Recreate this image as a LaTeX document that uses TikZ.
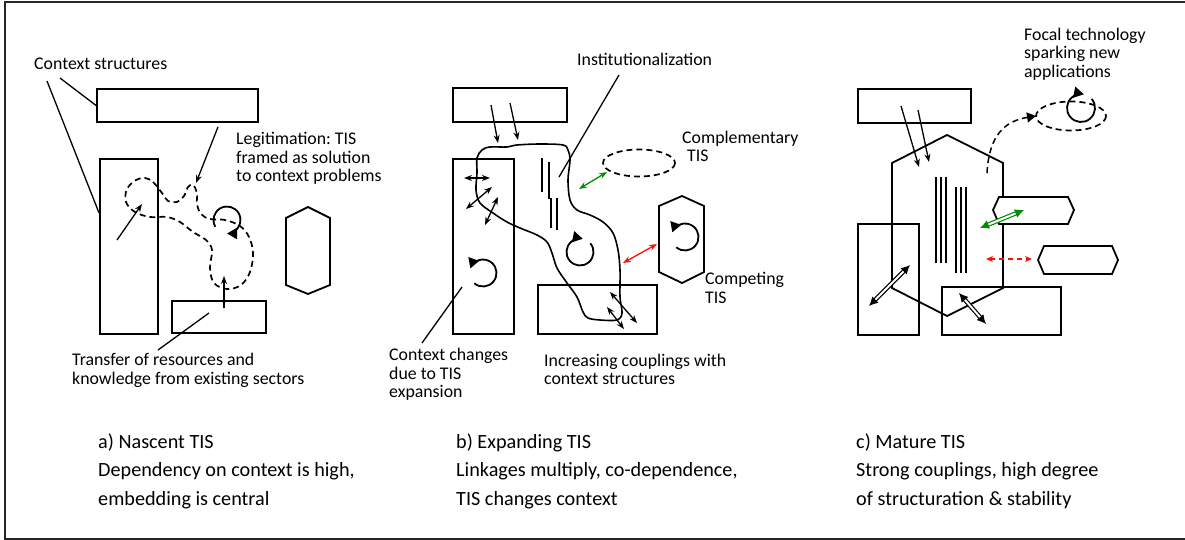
\documentclass[tikz,border=0pt]{standalone}
\usepackage{fontspec}
\setmainfont{Carlito}
\usepackage{tikz}
\usetikzlibrary{arrows.meta}

\begin{document}
\frenchspacing
\begin{tikzpicture}[x=1pt, y=-1pt,
	box/.style={draw, line width=1.8pt, rectangle, inner sep=0pt},
	outline/.style={line width=1.8pt, line join=miter},
	lbl/.style={font=\fontsize{17.8}{18.5}\selectfont, align=left, inner sep=0pt, anchor=base west},
	capt/.style={font=\fontsize{20.2}{28.5}\selectfont, align=left, inner sep=0pt, anchor=base west},
	lead/.style={line width=1.3pt},
	tip/.style={line width=1.3pt, -{Stealth[length=8pt, width=6pt]}},
	twotip/.style={line width=1.3pt, {Stealth[length=8pt, width=6pt]}-{Stealth[length=8pt, width=6pt]}},
	turn/.style={line width=1.8pt, -{Triangle[length=10pt, width=11pt]}},
	dashline/.style={line width=1.7pt, dash pattern=on 6pt off 4pt},
	twoline/.style={line width=1.2pt, double, double distance=2pt, {Latex[length=9pt, width=9pt]}-{Latex[length=9pt, width=9pt]}}]
	\useasboundingbox (0,0) rectangle (1185,540);
	\draw [line width=1.8pt, black!85] (1185,2) -- (5,2) -- (5,539) -- (1185,539);

	% a) nascent
	\node [box, minimum width=161pt, minimum height=33pt] (aTop) at (177.5,105.5) {};
	\node [box, minimum width=58pt, minimum height=175pt] (aLeft) at (129,246.5) {};
	\node [box, minimum width=94pt, minimum height=32pt] (aBot) at (219,317) {};
	\draw [outline] (308,207) -- (330,218) -- (330,285) -- (308,294) -- (286,285) -- (286,218) -- cycle;
	\draw [dashline] plot [smooth cycle, tension=0.6] coordinates {(145,178) (153,182) (162,193) (168,201) (177,202) (184,196) (188,187) (193,185) (197,193) (197,204) (201,214) (210,219) (225,220) (240,226) (249,237) (253,253) (250,272) (241,285) (227,289) (214,283) (210,268) (212,250) (206,240) (193,232) (180,222) (167,217) (150,217) (135,212) (126,202) (127,189) (136,180)};
	\draw [turn] (227,220) ++(150:13.5) arc [start angle=150, end angle=450, radius=13.5];
	\draw [tip] ([xshift=40.5pt, yshift=-4pt]aTop.south) -- (196,183);
	\draw [tip] (117,240) -- (142,204);
	\draw [tip] ([xshift=5pt, yshift=9pt]aBot.center) -- (224,276);

	\node [lbl] (aCtx) at (34,70) {Context structures};
	\node [lbl] (aLeg) at (236,182) {Legitimation: TIS\\framed as solution\\to context problems};
	\node [lbl] (aTra) at (72,384) {Transfer of resources and\\knowledge from existing sectors};
	\draw [lead] ([xshift=26pt, yshift=-8pt]aCtx.base west) -- (aTop.west);
	\draw [lead] ([xshift=13pt, yshift=-11pt]aCtx.base west) -- ([yshift=-55pt]aLeft.north west);
	\draw [lead] ([xshift=86pt, yshift=34pt]aTra.base west) -- ([xshift=-10pt, yshift=4pt]aBot.center);

	% b) expanding
	\node [box, minimum width=114pt, minimum height=34pt] (bTop) at (510,105) {};
	\node [box, minimum width=61pt, minimum height=175pt] (bLeft) at (483.5,246.5) {};
	\node [box, minimum width=119pt, minimum height=49pt] (bBot) at (597.5,309.5) {};
	\draw [dashline] (639,163) ellipse [x radius=36, y radius=13.5];
	\draw [outline] (682,196) -- (704,206) -- (704,272) -- (682,283) -- (659,272) -- (659,206) -- cycle;
	\draw [line width=1.6pt] plot [smooth cycle, tension=0.55] coordinates {(482,150) (490,147) (507,147) (517,145) (540,144) (563,145) (568,150) (570,160) (568,180) (570,200) (577,210) (590,215) (603,222) (613,233) (618,250) (620,270) (620,297) (622,313) (617,320) (600,320) (588,318) (583,312) (577,297) (567,283) (557,268) (552,253) (547,242) (537,235) (520,228) (507,222) (493,213) (480,203) (476,190) (477,173) (477,158)};
	\draw [line width=1.5pt] (542,158) -- (542,192);
	\draw [line width=1.5pt] (549,162) -- (549,199);
	\draw [line width=1.5pt] (551,198) -- (551,228);
	\draw [line width=1.5pt] (557,198) -- (557,230);
	\draw [turn] (483,273) ++(130:13.5) arc [start angle=130, end angle=-160, radius=13.5];
	\draw [turn] (580,252) ++(-40:13.5) arc [start angle=-40, end angle=282, radius=13.5];
	\draw [turn] (685,237) ++(130:13.5) arc [start angle=130, end angle=-160, radius=13.5];
	\draw [tip] ([xshift=-19pt]bTop.center) -- (498,143);
	\draw [tip] ([xshift=0pt, yshift=2pt]bTop.center) -- (518,140);
	\draw [twotip] (464,178) -- (490,178);
	\draw [twotip] (466,209) -- (492,187);
	\draw [twotip] (485,225) -- (498,197);
	\draw [twotip, green!55!black] (579,189) -- (607,172);
	\draw [twotip, red!90!orange] (623,263) -- (657,244);
	\draw [twotip] (610,292) -- (637,323);
	\draw [twotip] (607,307) -- (624,329);

	\node [lbl] (bIns) at (577,66) {Institutionalization};
	\node [lbl] (bCom) at (682,162) {Complementary\\\hspace*{5pt}TIS};
	\node [lbl] (bCmp) at (705,303) {Competing\\TIS};
	\node [lbl] (bChg) at (389,397.5) {Context changes\\due to TIS\\expansion};
	\node [lbl] (bInc) at (544,384.5) {Increasing couplings with\\context structures};
	\draw [lead] ([xshift=42pt, yshift=-9pt]bIns.base west) -- (559,177);
	\draw [lead] ([xshift=33pt, yshift=54.5pt]bChg.base west) -- ([xshift=-21.5pt, yshift=-40.5pt]bLeft.center);

	% c) mature
	\node [box, minimum width=113pt, minimum height=34pt] (cTop) at (914.5,106) {};
	\node [box, minimum width=61pt, minimum height=111pt] (cLeft) at (888.5,279.5) {};
	\node [box, minimum width=119pt, minimum height=48pt] (cBot) at (1001.5,311) {};
	\draw [outline] (947,135) -- (1003,163) -- (1003,288) -- (947,316) -- (892,288) -- (892,163) -- cycle;
	\draw [outline, fill=white] (993,210) -- (999,197) -- (1068,197) -- (1074,210) -- (1068,224) -- (999,224) -- cycle;
	\draw [outline, fill=white] (1038,260) -- (1044,246) -- (1112,246) -- (1118,260) -- (1112,274) -- (1044,274) -- cycle;
	\foreach \vx in {936,941,946}
		\draw [line width=1.5pt] (\vx,177) -- (\vx,263);
	\foreach \vx in {956,961,966}
		\draw [line width=1.5pt] (\vx,187) -- (\vx,273);
	\draw [tip] ([xshift=-13.5pt]cTop.center) -- (919,167);
	\draw [tip] ([xshift=3.5pt, yshift=-4pt]cTop.center) -- (929,162);
	\draw [twoline, green!55!black] (980,228) -- (1024,210);
	\draw [line width=1.5pt, red!90!orange, dash pattern=on 5pt off 4pt, {Stealth[length=7pt, width=6pt]}-{Stealth[length=7pt, width=6pt]}] (986,259) -- (1032,259);
	\draw [twoline] (869,306) -- (910,265);
	\draw [twoline] (959,293) -- (986,324);
	\draw [dashline] (1071,116) ellipse [x radius=35, y radius=14.5];
	\draw [dashline, line width=1.5pt, -{Triangle[length=9pt, width=10pt]}] (987,173) .. controls (989,135) and (1005,121) .. (1036,116);
	\draw [turn] (1081,108) ++(-40:14) arc [start angle=-40, end angle=282, radius=14];

	\node [lbl] (cFoc) at (1024,77.5) {Focal technology\\sparking new\\applications};

	% captions
	\node [capt] (aCap) at (98,505) {a) Nascent TIS\\Dependency on context is high,\\embedding is central};
	\node [capt] (bCap) at (456,505) {b) Expanding TIS\\Linkages multiply, co-dependence,\\TIS changes context};
	\node [capt] (cCap) at (856,505) {c) Mature TIS\\Strong couplings, high degree\\of structuration \& stability};
\end{tikzpicture}
\end{document}
